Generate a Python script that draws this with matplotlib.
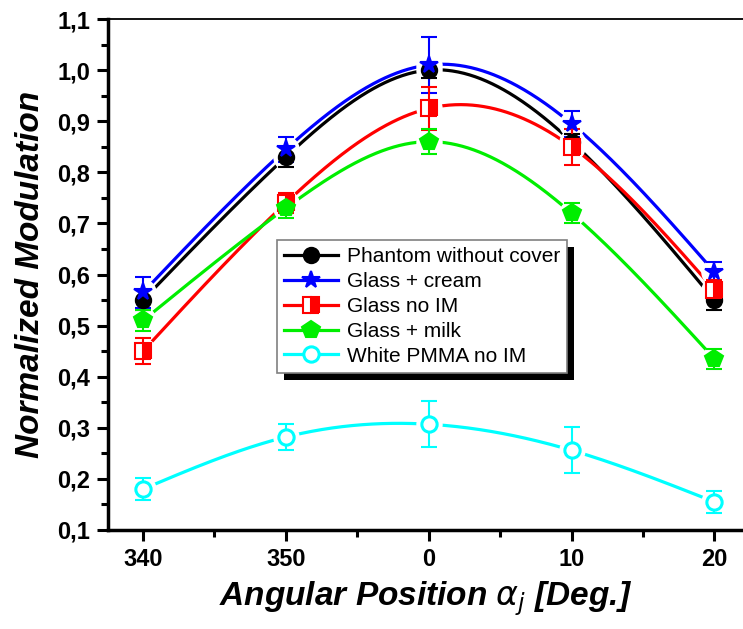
import numpy as np
import matplotlib
matplotlib.use('Agg')
import matplotlib.pyplot as plt
from matplotlib.patches import Rectangle
from matplotlib.ticker import MultipleLocator, FuncFormatter

plt.rcParams['font.family'] = ['Liberation Sans', 'DejaVu Sans']

# angular positions (340, 350 are plotted as -20, -10)
x = np.array([-20, -10, 0, 10, 20])
tick_labels = ['340', '350', '0', '10', '20']

labels = ['Phantom without cover', 'Glass + cream', 'Glass no IM', 'Glass + milk', 'White PMMA no IM']
phantom = [0.550, 0.830, 1.000, 0.860, 0.550]
phantom_err = [0.020, 0.020, 0.015, 0.015, 0.020]
cream = [0.565, 0.845, 1.010, 0.895, 0.605]
cream_err = [0.030, 0.025, 0.055, 0.025, 0.020]
no_im = [0.450, 0.740, 0.925, 0.850, 0.570]
no_im_err = [0.025, 0.020, 0.042, 0.035, 0.020]
milk = [0.510, 0.730, 0.860, 0.720, 0.435]
milk_err = [0.020, 0.020, 0.025, 0.020, 0.020]
pmma = [0.180, 0.282, 0.307, 0.256, 0.155]
pmma_err = [0.022, 0.025, 0.045, 0.045, 0.022]

series = [phantom, cream, no_im, milk, pmma]
errors = [phantom_err, cream_err, no_im_err, milk_err, pmma_err]
colors = ['black', '#0000ff', '#ff0000', '#00ee00', '#00ffff']
markers = ['o', '*', 's', 'p', 'o']


def natural_spline(xp, yp, xs):
    # natural cubic spline through the points, for the smooth connecting line
    xp = np.asarray(xp, float)
    yp = np.asarray(yp, float)
    n = len(xp)
    h = np.diff(xp)
    A = np.zeros((n, n))
    b = np.zeros(n)
    A[0, 0] = 1
    A[-1, -1] = 1
    for i in range(1, n - 1):
        A[i, i - 1] = h[i - 1]
        A[i, i] = 2 * (h[i - 1] + h[i])
        A[i, i + 1] = h[i]
        b[i] = 6 * ((yp[i + 1] - yp[i]) / h[i] - (yp[i] - yp[i - 1]) / h[i - 1])
    M = np.linalg.solve(A, b)
    idx = np.clip(np.searchsorted(xp, xs) - 1, 0, n - 2)
    x0, x1 = xp[idx], xp[idx + 1]
    hh = x1 - x0
    t0 = x1 - xs
    t1 = xs - x0
    return (M[idx] * t0**3 / (6 * hh) + M[idx + 1] * t1**3 / (6 * hh)
            + (yp[idx] / hh - M[idx] * hh / 6) * t0
            + (yp[idx + 1] / hh - M[idx + 1] * hh / 6) * t1)


fig = plt.figure(figsize=(7.43, 6.29), dpi=100)
ax = fig.add_axes([108 / 743, 1 - 530 / 629, 635 / 743, 511 / 629])

xs = np.linspace(-20, 20, 400)
handles = []
for i in range(len(series)):
    c = colors[i]
    ax.plot(xs, natural_spline(x, series[i], xs), color=c, lw=2.3, zorder=2)
    # white knockout so the line stops short of the marker
    ax.plot(x, series[i], ls='none', marker='o', ms=19, mfc='white', mec='none', zorder=3)

for i in range(len(series)):
    c = colors[i]
    ax.errorbar(x, series[i], yerr=errors[i], fmt='none', ecolor=c, elinewidth=1.5,
                capsize=5.5, capthick=1.5, zorder=4)
    kw = dict(color=c, lw=2.3, marker=markers[i], ms=11, mec=c, mew=1.5)
    if i == 0:
        kw.update(mfc=c)
    elif i == 1:
        kw.update(mfc=c, ms=13)
    elif i == 2:
        kw.update(mfc=c, fillstyle='right', markerfacecoloralt='white', ms=11)
    elif i == 3:
        kw.update(mfc=c, ms=13)
    else:
        kw.update(mfc='white', mew=2.2, ms=11)
    ax.plot(x, series[i], ls='none', zorder=5, **{k: v for k, v in kw.items() if k != 'lw'})
    h, = ax.plot([], [], **kw)
    handles.append(h)

ax.set_xlim(-22.45, 22.0)
ax.set_ylim(0.1, 1.1)
ax.set_xticks(x)
ax.set_xticklabels(tick_labels)
ax.xaxis.set_minor_locator(MultipleLocator(5))
ax.yaxis.set_major_locator(MultipleLocator(0.1))
ax.yaxis.set_minor_locator(MultipleLocator(0.05))
ax.yaxis.set_major_formatter(FuncFormatter(lambda v, p: ('%.1f' % v).replace('.', ',')))

for s in ['left', 'bottom']:
    ax.spines[s].set_linewidth(2.5)
ax.spines['top'].set_linewidth(1.3)
ax.spines['right'].set_visible(False)
ax.tick_params(which='major', length=8, width=2.2, labelsize=17, pad=5)
ax.tick_params(which='minor', length=5, width=2.2)
for lab in ax.get_xticklabels() + ax.get_yticklabels():
    lab.set_fontweight('bold')

ax.set_xlabel(r'Angular Position $\alpha_j$ [Deg.]', fontsize=24,
              fontweight='bold', style='italic', labelpad=6)
ax.set_ylabel('Normalized Modulation', fontsize=24, fontweight='bold', style='italic', labelpad=8)

leg = ax.legend(handles, labels, loc='upper left', bbox_to_anchor=(0.266, 0.5675),
                borderaxespad=0, fontsize=15, handlelength=2.6, labelspacing=0.28,
                fancybox=False, framealpha=1, edgecolor='gray', borderpad=0.35,
                handletextpad=0.4)
leg.get_frame().set_linewidth(1.2)
leg.set_zorder(10)

fig.canvas.draw()
bb = leg.get_window_extent().transformed(ax.transAxes.inverted())
dx = 7 / 635
dy = 7 / 511
ax.add_patch(Rectangle((bb.x0 + dx, bb.y0 - dy), bb.width, bb.height, transform=ax.transAxes,
                       facecolor='black', edgecolor='none', zorder=9, clip_on=False))

fig.savefig('out.png', dpi=100)
